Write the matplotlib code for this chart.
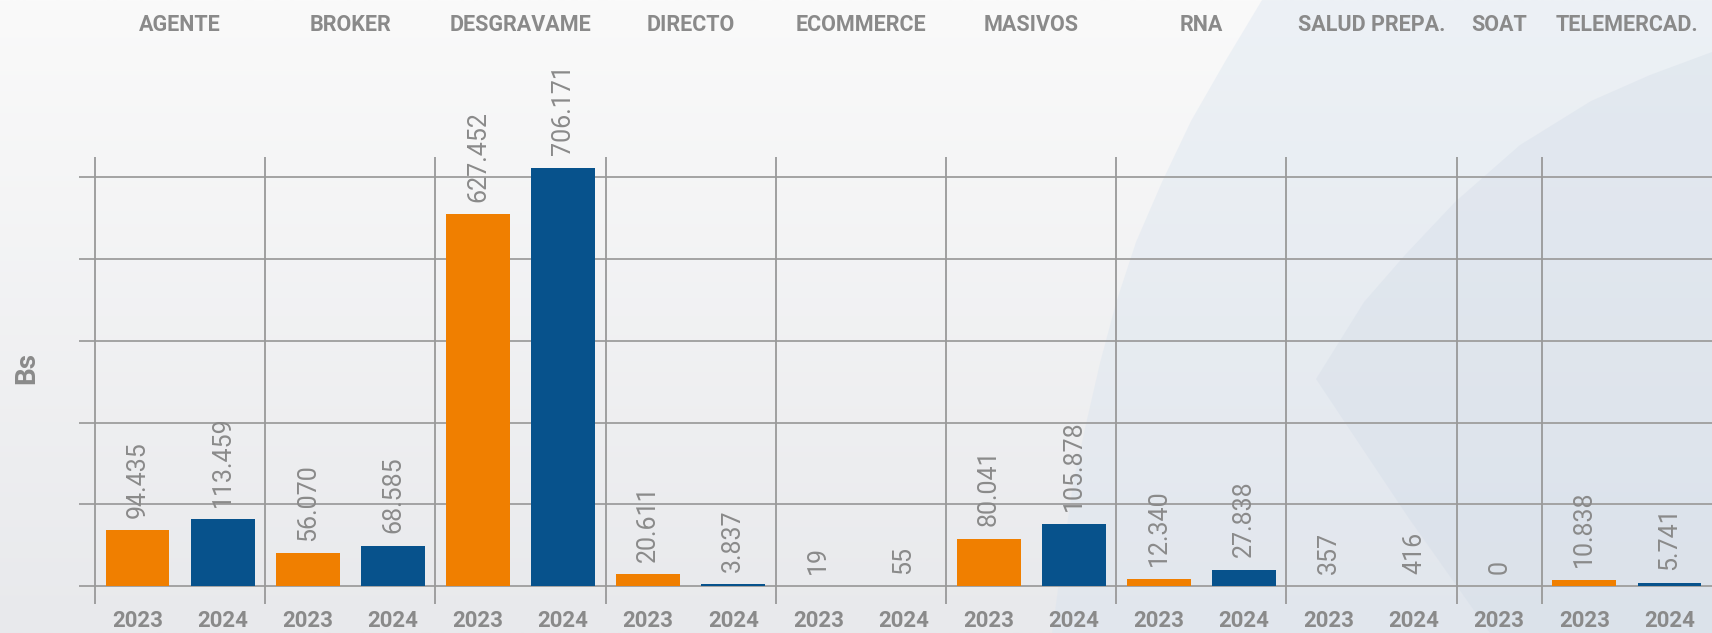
import numpy as np
import matplotlib.pyplot as plt
import matplotlib.transforms as mtransforms
from matplotlib.patches import Polygon

channels = ["AGENTE", "BROKER", "DESGRAVAME", "DIRECTO", "ECOMMERCE",
            "MASIVOS", "RNA", "SALUD PREPA.", "SOAT", "TELEMERCAD."]
values_2023 = [94435, 56070, 627452, 20611, 19, 80041, 12340, 357, 0, 10838]
values_2024 = [113459, 68585, 706171, 3837, 55, 105878, 27838, 416, None, 5741]

orange = "#f07f00"
blue = "#07528c"
gray_txt = "#8a8a8a"
grid_col = "#a3a3a3"

W, H = 1712, 633
fig = plt.figure(figsize=(W / 100, H / 100), dpi=100)

# background: soft vertical gradient plus pale blue swooshes
bg = fig.add_axes([0, 0, 1, 1])
bg.set_xlim(0, W)
bg.set_ylim(H, 0)
bg.axis("off")
t = np.linspace(0, 1, 256)[:, None, None]
top = np.array([250, 250, 250]) / 255
bot = np.array([232, 233, 236]) / 255
grad = top * (1 - t) + bot * t
bg.imshow(np.repeat(grad, 2, axis=1), extent=(0, W, H, 0), aspect="auto", zorder=0)
edge1 = [(1262, 0), (1226, 60), (1191, 121), (1162, 182), (1136, 242), (1116, 303),
         (1100, 363), (1086, 424), (1073, 484), (1062, 560), (1052, 633)]
swoosh1 = edge1 + [(W, H), (W, 0)]
edge2 = [(W, 52), (1650, 75), (1591, 101), (1520, 145), (1455, 202), (1405, 255),
         (1364, 302), (1316, 379), (1410, 520), (1490, 633)]
swoosh2 = edge2 + [(W, H)]
bg.add_patch(Polygon(swoosh1, closed=True, facecolor="#d8e3ef", alpha=0.38, lw=0, zorder=1))
bg.add_patch(Polygon(swoosh2, closed=True, facecolor="#cfd9e6", alpha=0.3, lw=0, zorder=2))

# main axes
x0 = 78.6 / W
ax = fig.add_axes([x0, 1 - 604 / H, 1 - x0, (604 - 157.2) / H])
ax.patch.set_alpha(0)
step = 138000
per_px = step / 81.8
ymin, ymax = -17.7 * per_px, 429.1 * per_px
xmin, xmax = -0.693, 18.5
ax.set_xlim(xmin, xmax)
ax.set_ylim(ymin, ymax)

ax.hlines(np.arange(0, 5 * step + 1, step), xmin, xmax, color=grid_col, lw=1.4, zorder=1)

trans = mtransforms.blended_transform_factory(ax.transData, fig.transFigure)
slot = 0
seps = [-0.5]
xticks, xlabels = [], []
for name, v23, v24 in zip(channels, values_2023, values_2024):
    start = slot
    for val, yr, col in [(v23, "2023", orange), (v24, "2024", blue)]:
        if val is None:
            continue
        ax.bar(slot, val, width=0.75, color=col, zorder=2)
        ax.annotate(f"{val:,}".replace(",", "."), (slot, val), xytext=(0, 9),
                    textcoords="offset points", rotation=90, ha="center", va="bottom",
                    fontsize=18, color=gray_txt, family="Roboto")
        xticks.append(slot)
        xlabels.append(yr)
        slot += 1
    seps.append(slot - 0.5)
    ax.text((start + slot - 1) / 2, 1 - 25 / H, name, transform=trans, ha="center",
            va="center", fontsize=15.5, color=gray_txt, fontweight="bold", family="Roboto")

ax.vlines(seps[:-1], ymin, ymax, color="#999999", lw=1.3, zorder=1)

ax.set_xticks(xticks)
ax.set_xticklabels(xlabels, fontsize=16, color=gray_txt, fontweight="bold", family="Roboto")
ax.tick_params(axis="x", length=0, pad=4)
ax.set_yticks([])
for s in ax.spines.values():
    s.set_visible(False)

fig.text(27 / W, 1 - 368 / H, "Bs", rotation=90, ha="center", va="center",
         fontsize=20, fontweight="bold", color=gray_txt, family="Roboto")

fig.savefig("out.png", dpi=100)
